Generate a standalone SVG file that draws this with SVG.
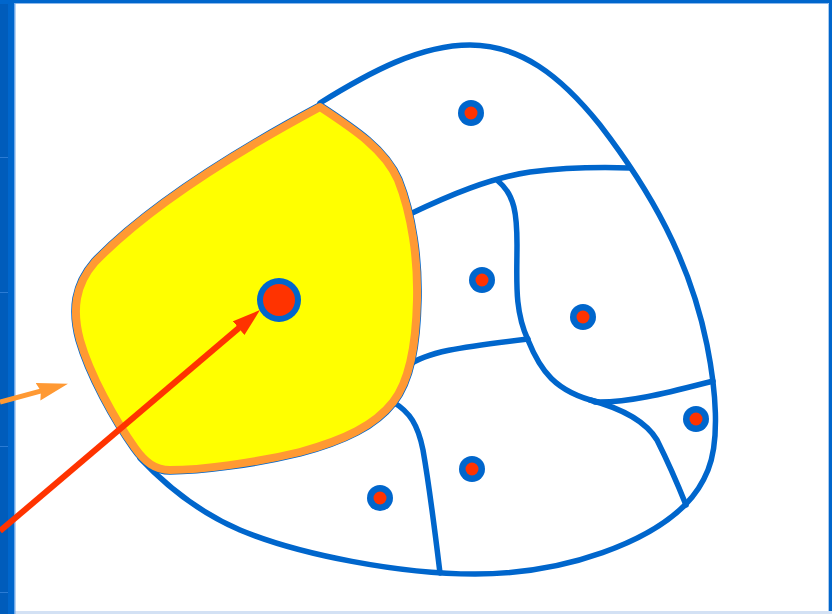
<svg xmlns="http://www.w3.org/2000/svg" width="832" height="614" viewBox="0 0 832 614">
  <style>
    .cell { fill: none; stroke: #0066CC; stroke-width: 5.5; stroke-linecap: round; stroke-linejoin: round; }
    .dot-o { fill: #0066CC; }
    .dot-i { fill: #FF3300; }
  </style>
  <defs>
    <marker id="headRed" markerUnits="userSpaceOnUse" markerWidth="30" markerHeight="20" refX="14" refY="9" orient="auto">
      <path d="M0,0 L28,9 L0,18 Z" fill="#FF3300"/>
    </marker>
    <marker id="headOrange" markerUnits="userSpaceOnUse" markerWidth="32" markerHeight="20" refX="15" refY="9" orient="auto">
      <path d="M0,0 L31,9 L0,18 L3,9 Z" fill="#FF9933"/>
    </marker>
  </defs>

  <rect x="0" y="0" width="832" height="614" fill="#FFFFFF"/>

  <g id="frame">
    <rect x="0" y="0" width="832" height="3" fill="#0066CC"/>
    <rect x="0" y="3" width="832" height="1" fill="#8DB9EC"/>
    <rect x="829" y="0" width="3" height="614" fill="#0066CC"/>
    <rect x="828" y="3" width="1" height="611" fill="#A9CBF0"/>
    <rect x="0" y="611" width="832" height="3" fill="#D3E1F4"/>
    <rect x="0" y="0" width="14" height="614" fill="#0066CC"/>
    <rect x="0" y="4" width="8" height="610" fill="#005CBB"/>
    <rect x="0" y="157" width="8" height="1" fill="#2A7BD4"/>
    <rect x="0" y="292" width="8" height="1" fill="#2A7BD4"/>
    <rect x="0" y="446" width="8" height="1" fill="#2A7BD4"/>
    <rect x="0" y="592" width="8" height="1" fill="#2A7BD4"/>
    <rect x="14" y="3" width="1.5" height="611" fill="#6FA8E8"/>
  </g>

  <g id="outer-boundary">
    <path class="cell" d="M320,103 C370,72 420,45 470,45 C520,45 560,75 600,125 C650,190 690,260 707,345 C716,390 720,440 708,470 C700,490 690,500 685,505 C650,540 570,574 475,574 C400,574 300,555 240,530 C205,515 170,490 140,458"/>
  </g>

  <g id="inner-edges">
    <path class="cell" d="M410,214 C450,195 490,178 530,172 C570,167 600,167 630,168"/>
    <path class="cell" d="M498,181 C515,195 517,215 517,245 C517,280 514,310 528,340 C540,370 555,392 598,402"/>
    <path class="cell" d="M408,366 C425,352 460,347 528,339"/>
    <path class="cell" d="M595,402 C630,403 670,392 713,381"/>
    <path class="cell" d="M590,400 C620,408 645,420 657,440 C667,460 678,485 686,505"/>
    <path class="cell" d="M393,402 C410,412 418,425 423,450 C430,490 436,540 440,573"/>
  </g>

  <g id="highlighted-cell">
    <path d="M320,107 C355,130 385,150 398,180 C412,215 418,260 417,300 C416,345 410,380 393,402 C375,425 345,440 300,452 C255,463 200,470 170,470 C155,470 145,462 135,448 C115,420 90,375 80,340 C72,310 75,285 95,262 C150,205 240,150 320,107 Z" fill="none" stroke="#0066CC" stroke-width="9.5" stroke-linejoin="round"/>
    <path d="M320,107 C355,130 385,150 398,180 C412,215 418,260 417,300 C416,345 410,380 393,402 C375,425 345,440 300,452 C255,463 200,470 170,470 C155,470 145,462 135,448 C115,420 90,375 80,340 C72,310 75,285 95,262 C150,205 240,150 320,107 Z" fill="#FFFF00" stroke="#FF9933" stroke-width="8" stroke-linejoin="round"/>
  </g>

  <g id="sites">
    <g id="site-center"><circle class="dot-o" cx="279" cy="300" r="22"/><circle class="dot-i" cx="279" cy="300" r="16"/></g>
    <g id="site-1"><circle class="dot-o" cx="471" cy="113" r="13"/><circle class="dot-i" cx="471" cy="113" r="6.5"/></g>
    <g id="site-2"><circle class="dot-o" cx="482" cy="280" r="13"/><circle class="dot-i" cx="482" cy="280" r="6.5"/></g>
    <g id="site-3"><circle class="dot-o" cx="583" cy="317" r="13"/><circle class="dot-i" cx="583" cy="317" r="6.5"/></g>
    <g id="site-4"><circle class="dot-o" cx="696" cy="419" r="13"/><circle class="dot-i" cx="696" cy="419" r="6.5"/></g>
    <g id="site-5"><circle class="dot-o" cx="472" cy="469" r="13"/><circle class="dot-i" cx="472" cy="469" r="6.5"/></g>
    <g id="site-6"><circle class="dot-o" cx="380" cy="498" r="13"/><circle class="dot-i" cx="380" cy="498" r="6.5"/></g>
  </g>

  <g id="connectors">
    <line x1="0" y1="531" x2="249.3" y2="319.1" stroke="#FF3300" stroke-width="6" marker-end="url(#headRed)"/>
    <line x1="0" y1="402" x2="52.5" y2="387.9" stroke="#FF9933" stroke-width="5" marker-end="url(#headOrange)"/>
  </g>
</svg>
